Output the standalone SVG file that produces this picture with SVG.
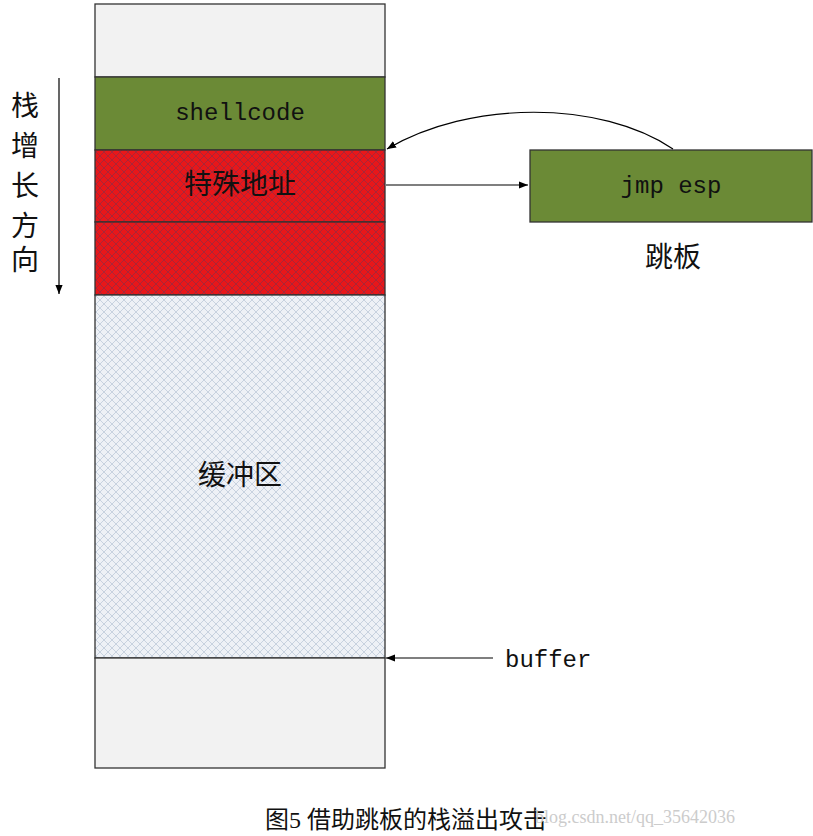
<svg xmlns="http://www.w3.org/2000/svg" width="813" height="836" viewBox="0 0 813 836">
<defs>
<style>
.b{stroke:#333;stroke-width:1.3}
.c{font-family:"Liberation Serif","Noto Sans CJK SC",serif;fill:#111}
.m{font-family:"Liberation Mono",monospace;fill:#111}
.l{stroke:#000;stroke-width:1.2;fill:none}
</style>
<pattern id="hr" width="8" height="8" patternUnits="userSpaceOnUse"><rect width="8" height="8" fill="#e8171a"/><path d="M0 0L8 8M8 0L0 8" stroke="#9a2a40" stroke-width="0.8"/></pattern>
<pattern id="hb" width="8" height="8" patternUnits="userSpaceOnUse"><rect width="8" height="8" fill="#eef1f6"/><path d="M0 0L8 8M8 0L0 8" stroke="#b8c4d6" stroke-width="0.7"/></pattern>
<marker id="a" viewBox="0 0 10 10" refX="10" refY="5" markerWidth="9" markerHeight="9" orient="auto-start-reverse" markerUnits="userSpaceOnUse"><path d="M0 1L10 5L0 9z" fill="#000"/></marker>
</defs>
<rect width="813" height="836" fill="#fff"/>
<g id="top"><rect x="95" y="4" width="290" height="73" fill="#f2f2f2" class="b"/></g>
<g id="shellcode"><rect x="95" y="77" width="290" height="73" fill="#6b8a36" class="b"/><text x="240" y="120" text-anchor="middle" class="m" font-size="24">shellcode</text></g>
<g id="addr"><rect x="95" y="150" width="290" height="72" fill="url(#hr)" class="b"/><text x="240" y="194" text-anchor="middle" class="c" font-size="28">特殊地址</text></g>
<g id="red2"><rect x="95" y="222" width="290" height="73" fill="url(#hr)" class="b"/></g>
<g id="buf"><rect x="95" y="295" width="290" height="363" fill="url(#hb)" class="b"/><text x="240" y="485" text-anchor="middle" class="c" font-size="28">缓冲区</text></g>
<g id="bottom"><rect x="95" y="658" width="290" height="110" fill="#f2f2f2" class="b"/></g>
<g id="jmp"><rect x="530" y="150" width="282" height="72" fill="#6b8a36" class="b"/><text x="671" y="193" text-anchor="middle" class="m" font-size="24">jmp esp</text></g>
<text x="673" y="267" text-anchor="middle" class="c" font-size="28">跳板</text>
<g class="c" font-size="28" text-anchor="middle"><text x="25" y="116">栈</text><text x="25" y="156">增</text><text x="25" y="196">长</text><text x="25" y="236">方</text><text x="25" y="270">向</text></g>
<text x="505" y="667" class="m" font-size="24">buffer</text>
<g id="connectors">
<line x1="59" y1="78" x2="59" y2="294" class="l" marker-end="url(#a)"/>
<path d="M673 149C600 100 470 100 387 149" class="l" marker-end="url(#a)"/>
<line x1="386" y1="185" x2="528" y2="185" class="l" marker-end="url(#a)"/>
<line x1="493" y1="658" x2="386" y2="658" class="l" marker-end="url(#a)"/>
</g>
<text x="265" y="828" class="c" font-size="24">图5 借助跳板的栈溢出攻击</text>
<text x="535" y="823" font-family="Liberation Serif,serif" font-size="18" fill="#ccc">blog.csdn.net/qq_35642036</text>
</svg>
